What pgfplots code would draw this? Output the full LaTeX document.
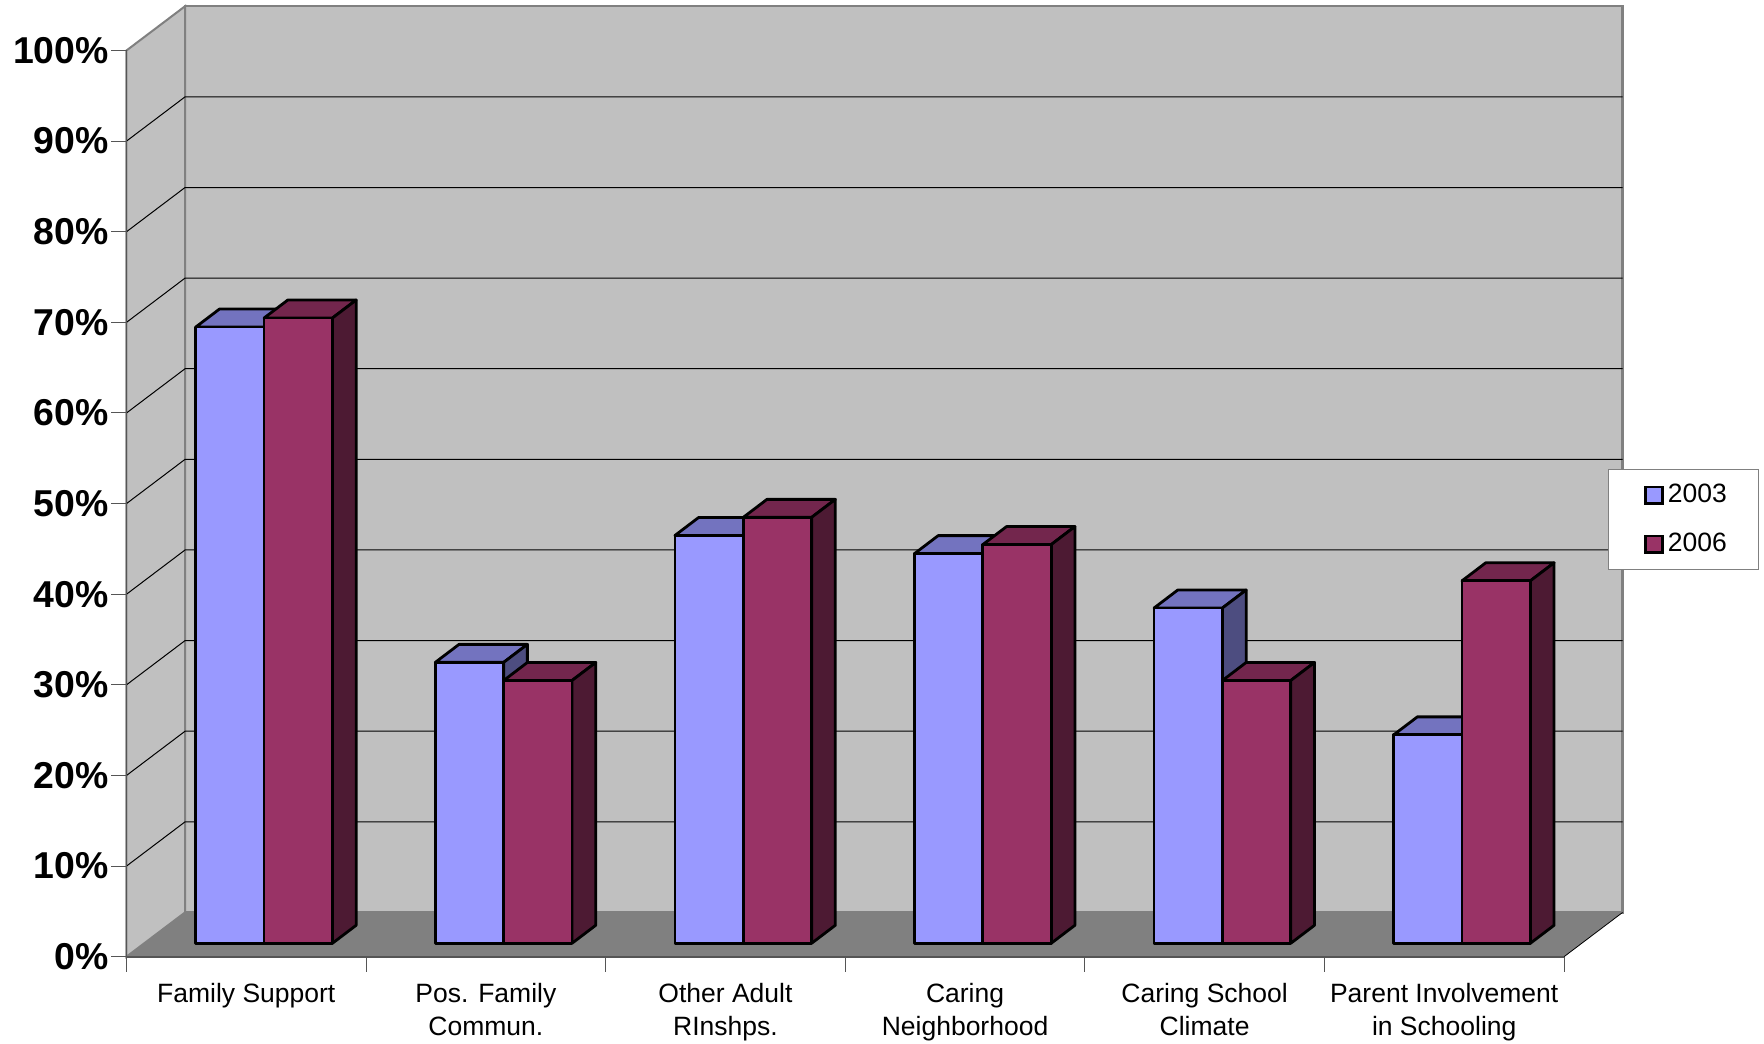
\documentclass[border=0pt]{standalone}
\usepackage{pgfplots}
\pgfplotsset{compat=1.18}
\usepackage{fontspec}
\setmainfont{Liberation Sans}
\definecolor{wall}{HTML}{C0C0C0}
\definecolor{edge}{HTML}{808080}
\definecolor{axln}{HTML}{555555}
\definecolor{fa}{HTML}{9999FF}
\definecolor{ta}{HTML}{7373BF}
\definecolor{sa}{HTML}{4D4D80}
\definecolor{fb}{HTML}{993366}
\definecolor{tb}{HTML}{73264D}
\definecolor{sb}{HTML}{4D1A33}
\newcommand{\threedbar}[6]{% left, right, value, front, top, side
  \pgfmathsetmacro{\xl}{#1}\pgfmathsetmacro{\xr}{#2}
  \pgfmathsetmacro{\xlb}{#1+0.099}\pgfmathsetmacro{\xrb}{#2+0.099}
  \pgfmathsetmacro{\yt}{1.48+#3}\pgfmathsetmacro{\ytb}{1.48+#3+1.987}
  \addplot[forget plot,fill=#5,draw=black,line width=1.4pt,line join=round] coordinates {(\xl,\yt)(\xr,\yt)(\xrb,\ytb)(\xlb,\ytb)} -- cycle;
  \addplot[forget plot,fill=#6,draw=black,line width=1.4pt,line join=round] coordinates {(\xr,1.48)(\xr,\yt)(\xrb,\ytb)(\xrb,3.467)} -- cycle;
  \addplot[forget plot,fill=#4,draw=black,line width=1.4pt,line join=round] coordinates {(\xl,1.48)(\xl,\yt)(\xr,\yt)(\xr,1.48)} -- cycle;
}
\begin{document}
\begin{tikzpicture}[x=1pt,y=1pt]
\useasboundingbox (0,0) rectangle (882,521.5);
\fill[white] (0,0) rectangle (882,521.5);
\begin{axis}[
  at={(63.25pt,43.15pt)},anchor=south west,
  scale only axis,width=718.75pt,height=453.1pt,
  xmin=0,xmax=6,ymin=0,ymax=100,clip=false,
  axis on top,
  axis x line=bottom,axis y line=left,
  axis line style={-,draw=axln,line width=0.8pt},
  tick align=outside,
  major tick length=7.5pt,
  xtick={0,1,2,3,4,5,6},
  xticklabels={},
  x tick style={draw=axln,line width=0.5pt},
  extra x ticks={0.5,1.5,2.5,3.5,4.5,5.5},
  extra x tick labels={{Family Support},{Pos. Family\\Commun.},{Other Adult\\RInshps.},{Caring\\Neighborhood},{Caring School\\Climate},{Parent Involvement\\in Schooling}},
  extra x tick style={major tick length=0pt},
  x tick label style={font=\fontsize{13.25}{16.5}\selectfont,align=center,anchor=north,inner sep=0pt,yshift=-13pt},
  ytick={0,10,20,30,40,50,60,70,80,90,100},
  yticklabels={0\%,10\%,20\%,30\%,40\%,50\%,60\%,70\%,80\%,90\%,100\%},
  y tick label style={font=\fontsize{18.7}{20}\selectfont\bfseries,anchor=east,inner sep=0pt,xshift=-1.2pt,yshift=0pt},
  y tick style={draw=axln,line width=0.5pt},
  legend style={at={(axis cs:6.1846,53.8)},anchor=north west,draw=edge,line width=0.5pt,fill=white,
    font=\fontsize{13.25}{15}\selectfont,inner xsep=13.7pt,inner ysep=5.4pt,row sep=9.75pt,
    legend cell align=left},
  legend image code/.code={\path (-3.4pt,0pt); \draw[#1,draw=black,line width=1.2pt] (1pt,-4.2pt) rectangle (9.6pt,4.2pt);},
]
% back wall, left wall, floor
\addplot[forget plot,fill=wall,draw=edge,line width=1.2pt] coordinates {(0.2443,4.88)(6.2443,4.88)(6.2443,104.88)(0.2443,104.88)} -- cycle;
\addplot[forget plot,fill=wall,draw=edge,line width=1.0pt] coordinates {(0,0)(0.2443,4.88)(0.2443,104.88)(0,100)} -- cycle;
\addplot[forget plot,fill=edge,draw=none] coordinates {(0,0)(6,0)(6.2443,4.88)(0.2443,4.88)} -- cycle;
\addplot[forget plot,draw=black,line width=0.4pt] coordinates {(6,0)(6.2443,4.88)};
% grid lines
\addplot[forget plot,draw=black,line width=0.5pt] coordinates {
(0,10)(0.2443,14.88)(6.2443,14.88)

(0,20)(0.2443,24.88)(6.2443,24.88)

(0,30)(0.2443,34.88)(6.2443,34.88)

(0,40)(0.2443,44.88)(6.2443,44.88)

(0,50)(0.2443,54.88)(6.2443,54.88)

(0,60)(0.2443,64.88)(6.2443,64.88)

(0,70)(0.2443,74.88)(6.2443,74.88)

(0,80)(0.2443,84.88)(6.2443,84.88)

(0,90)(0.2443,94.88)(6.2443,94.88)
};
% bars
\threedbar{0.289}{0.5743}{68}{fa}{ta}{sa}
\threedbar{0.5743}{0.8596}{69}{fb}{tb}{sb}
\threedbar{1.289}{1.5743}{31}{fa}{ta}{sa}
\threedbar{1.5743}{1.8596}{29}{fb}{tb}{sb}
\threedbar{2.289}{2.5743}{45}{fa}{ta}{sa}
\threedbar{2.5743}{2.8596}{47}{fb}{tb}{sb}
\threedbar{3.289}{3.5743}{43}{fa}{ta}{sa}
\threedbar{3.5743}{3.8596}{44}{fb}{tb}{sb}
\threedbar{4.289}{4.5743}{37}{fa}{ta}{sa}
\threedbar{4.5743}{4.8596}{29}{fb}{tb}{sb}
\threedbar{5.289}{5.5743}{23}{fa}{ta}{sa}
\threedbar{5.5743}{5.8596}{40}{fb}{tb}{sb}
\addlegendimage{fill=fa}
\addlegendentry{2003}
\addlegendimage{fill=fb}
\addlegendentry{2006}
\end{axis}
\end{tikzpicture}
\end{document}
